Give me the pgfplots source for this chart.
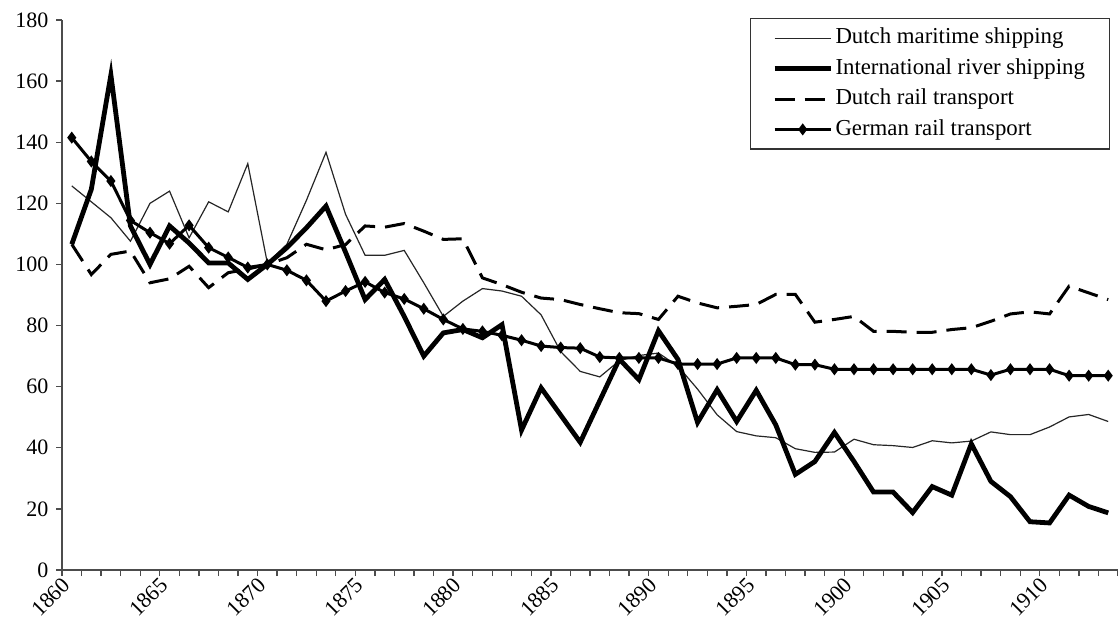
\documentclass[border=0pt]{standalone}
\usepackage{fontspec}
\setmainfont{Liberation Serif}
\usepackage{pgfplots}
\usepackage{pgfplotstable}
\pgfplotsset{compat=1.18}
\pgfplotstableread{
year M R D G
1860 125.7 106.6 106.6 141.5
1861 120.5 124.6 96.7 133.7
1862 115.3 162.0 103.3 127.3
1863 107.6 112.6 104.4 114.4
1864 120.0 100.0 94.0 110.4
1865 124.0 112.6 95.3 106.8
1866 108.7 107.0 99.4 112.8
1867 120.5 100.5 92.4 105.5
1868 117.2 100.5 97.3 102.3
1869 133.0 95.1 98.5 99.0
1870 100.5 100.0 100.0 100.0
1871 106.6 105.5 102.2 98.1
1872 121.0 112.0 106.6 94.8
1873 136.7 119.1 104.8 88.0
1874 116.4 104.0 106.5 91.3
1875 103.0 88.5 112.6 94.3
1876 103.0 95.1 112.2 90.8
1877 104.6 83.0 113.4 88.7
1878 94.0 70.0 110.9 85.5
1879 83.0 77.6 108.2 82.0
1880 88.0 78.7 108.4 78.9
1881 92.1 76.0 95.6 78.1
1882 91.3 80.3 93.4 76.8
1883 89.6 45.8 90.9 75.2
1884 83.5 59.6 89.0 73.3
1885 71.5 50.7 88.5 72.8
1886 65.0 41.8 86.9 72.6
1887 63.2 55.4 85.5 69.7
1888 68.5 69.0 84.2 69.4
1889 70.2 62.3 83.9 69.4
1890 71.0 78.3 82.0 69.4
1891 66.7 68.9 89.6 67.4
1892 59.2 48.3 87.4 67.4
1893 50.8 59.0 85.8 67.4
1894 45.3 48.6 86.3 69.4
1895 43.9 58.8 86.9 69.4
1896 43.3 47.5 90.2 69.4
1897 39.7 31.3 90.2 67.2
1898 38.5 35.5 81.1 67.2
1899 38.6 45.0 82.0 65.7
1900 42.8 35.5 83.0 65.7
1901 41.0 25.5 78.1 65.7
1902 40.7 25.5 78.1 65.7
1903 40.1 18.8 77.8 65.7
1904 42.3 27.3 77.8 65.7
1905 41.6 24.5 78.7 65.7
1906 42.2 41.3 79.3 65.7
1907 45.2 29.0 81.4 63.8
1908 44.3 24.0 83.8 65.7
1909 44.3 15.8 84.5 65.7
1910 46.8 15.4 83.8 65.7
1911 50.1 24.5 92.9 63.6
1912 50.9 20.8 90.7 63.6
1913 48.6 18.7 88.5 63.6
}\datatable
\begin{document}
\fontsize{11}{13}\selectfont
\begin{tikzpicture}
\begin{axis}[
  scale only axis,
  width=528pt, height=275pt,
  xmin=1859.5, xmax=1913.5,
  ymin=0, ymax=180,
  axis x line*=bottom, axis y line*=left,
  axis line style={black!70, line width=0.75pt},
  tick style={black!70, line width=0.7pt},
  tick align=outside,
  major tick length=3pt,
  minor tick length=3pt,
  xtick={1860,1865,...,1910},
  minor xtick={1859.5,1860.5,...,1913.5},
  major x tick style={draw=none},
  xticklabel style={rotate=45, anchor=east, font=\fontsize{11}{13}\selectfont,
    /pgf/number format/1000 sep={}},
  ytick={0,20,...,180},
  yticklabel style={font=\fontsize{11}{13}\selectfont},
  /pgf/number format/assume math mode=true,
  legend style={at={(0.9924,1.0036)}, anchor=north east, draw=black!80, line width=0.6pt,
    fill=white, font=\fontsize{11.4}{13}\selectfont, inner xsep=11pt, inner ysep=3.2pt,
    row sep=2pt, nodes={inner sep=1.2pt, text height=8.2pt, text depth=2.6pt},
    column 2/.style={nodes={text width=129pt}}},
  legend cell align=left,
  legend image code/.code={\draw[mark repeat=2,mark phase=2,#1] plot coordinates {(0pt,0pt) (14pt,0pt) (28pt,0pt)};},
]
\addplot[black!85, line width=0.6pt, line join=miter] table[x=year,y=M] {\datatable};
\addlegendentry{Dutch maritime shipping}
\addplot[black, line width=2.4pt, line join=miter] table[x=year,y=R] {\datatable};
\addlegendentry{International river shipping}
\addplot[black, line width=1.5pt, dash pattern=on 10pt off 5pt] table[x=year,y=D] {\datatable};
\addlegendentry{Dutch rail transport}
\addplot[black, line width=1.5pt, mark=diamond*, mark size=1.8pt, mark options={solid}] table[x=year,y=G] {\datatable};
\addlegendentry{German rail transport}
\coordinate (bl) at (rel axis cs:0,0);
\coordinate (tr) at (rel axis cs:1,1);
\end{axis}
\pgfresetboundingbox
\path[use as bounding box] ([xshift=-31pt,yshift=-29pt]bl) rectangle ([yshift=10pt]tr);
\end{tikzpicture}
\end{document}
